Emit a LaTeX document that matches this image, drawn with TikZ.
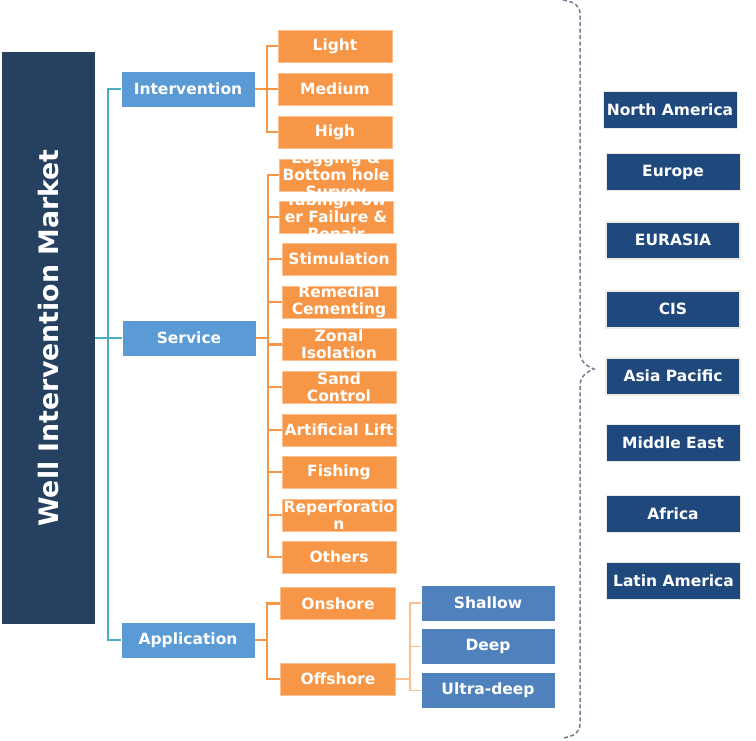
\documentclass[tikz,border=0pt]{standalone}
\usepackage{fontspec}
\setmainfont{DejaVu Sans}
\usetikzlibrary{calc}

\definecolor{navy}{RGB}{38,64,96}
\definecolor{lvlblue}{RGB}{91,155,213}
\definecolor{boxorange}{RGB}{247,150,70}
\definecolor{lineteal}{RGB}{75,172,198}
\definecolor{regblue}{RGB}{31,73,125}
\definecolor{subblue}{RGB}{79,129,189}
\definecolor{paleorange}{RGB}{250,192,144}
\definecolor{bracegrey}{RGB}{112,126,150}
\definecolor{rim}{RGB}{238,236,225}

\tikzset{
  boxtext/.style={text=white, font=\fontsize{15.5}{17}\selectfont\bfseries, align=center, inner sep=0pt},
  titlebox/.style={fill=navy, text=white, font=\fontsize{26.8}{30}\selectfont\bfseries, rotate=90, minimum width=572pt, minimum height=93pt, inner sep=0pt},
  lvlbox/.style={boxtext, fill=lvlblue, draw=white, line width=0.6pt, minimum width=134pt, minimum height=36pt},
  obox/.style={boxtext, fill=boxorange, draw=boxorange!60!white, line width=0.6pt, minimum width=114pt, minimum height=32pt},
  sbox/.style={boxtext, fill=subblue, draw=white, line width=0.6pt, minimum width=134pt, minimum height=36pt},
  regbox/.style={boxtext, fill=regblue, draw=rim, line width=0.8pt, minimum width=134pt, minimum height=37pt},
  rimbox/.style={regbox, line width=2pt},
  tline/.style={draw=lineteal, line width=2.2pt},
  oline/.style={draw=boxorange, line width=2.2pt},
  paleline/.style={draw=paleorange, line width=1.4pt},
  braceline/.style={draw=bracegrey, line width=1.5pt, dash pattern=on 4pt off 2.5pt}
}

\begin{document}
\begin{tikzpicture}[x=1pt,y=-1pt]
  \useasboundingbox (0,0) rectangle (756,740);

  % market and first level
  \node[titlebox] at (48.5,338) (title) {Well Intervention Market};
  \node[lvlbox] at ($(title) + (139.5,-249)$) (intv) {Intervention};
  \node[lvlbox] at ($(title) + (140.5,0)$) (svc) {Service};
  \node[lvlbox] at ($(title) + (139.5,302)$) (appl) {Application};

  % intervention
  \node[obox] at ($(intv) + (147,-43)$) (light) {Light};
  \node[obox] at ($(intv) + (147,0)$) (medium) {Medium};
  \node[obox] at ($(intv) + (147,43)$) (high) {High};

  % service
  \node[obox] at ($(svc) + (147,-163)$) (logg) {};
  \node[obox] at ($(svc) + (147,-121)$) (tubg) {};
  \node[obox] at ($(svc) + (150,-79)$) (stim) {Stimulation};
  \node[obox] at ($(svc) + (150,-36)$) (remc) {Remedial\\Cementing};
  \node[obox] at ($(svc) + (150,6.5)$) (zoni) {Zonal\\Isolation};
  \node[obox] at ($(svc) + (150,49)$) (sand) {Sand\\Control};
  \node[obox] at ($(svc) + (150,92)$) (artl) {Artificial Lift};
  \node[obox] at ($(svc) + (150,134)$) (fish) {Fishing};
  \node[obox] at ($(svc) + (150,177)$) (repf) {Reperforatio\\n};
  \node[obox] at ($(svc) + (150,219)$) (othr) {Others};
  \begin{scope}
    \clip (logg.south west) rectangle (logg.north east);
    \node[boxtext] at ($(logg) + (0,1)$) (loggtxt) {Logging \&\\Bottom hole\\Survey};
  \end{scope}
  \begin{scope}
    \clip (tubg.south west) rectangle (tubg.north east);
    \node[boxtext] at ($(tubg) + (0,1)$) (tubgtxt) {Tubing/Pow\\er Failure \&\\Repair};
  \end{scope}

  % application
  \node[obox, minimum width=115pt] at ($(appl) + (150,-36.5)$) (onsh) {Onshore};
  \node[obox, minimum width=115pt] at ($(appl) + (150,39)$) (offsh) {Offshore};
  \node[sbox] at ($(offsh) + (150,-76)$) (shal) {Shallow};
  \node[sbox] at ($(offsh) + (150,-32.5)$) (deep) {Deep};
  \node[sbox] at ($(offsh) + (150,11.5)$) (ultra) {Ultra-deep};

  % regions
  \node[regbox] at (670,109.5) (namer) {North America};
  \node[regbox] at (673,172) (europe) {Europe};
  \node[rimbox] at (673,240) (eurasia) {EURASIA};
  \node[rimbox] at (673,309) (cis) {CIS};
  \node[rimbox] at (673,376) (apac) {Asia Pacific};
  \node[regbox] at (673,443) (mideast) {Middle East};
  \node[regbox] at (673,514) (africa) {Africa};
  \node[regbox] at (673.5,580.5) (latam) {Latin America};

  % connectors
  \coordinate (tk) at ($(title.south) + (13,0)$);
  \coordinate (ib) at ($(intv.east) + (12,0)$);
  \coordinate (sb) at ($(svc.east) + (12,0)$);
  \coordinate (ab) at ($(appl.east) + (12,0)$);
  \coordinate (fb) at ($(offsh.east) + (14,0)$);

  \draw[tline] (intv.west) -| (tk) |- (appl.west);
  \draw[tline] (title.south) -- (svc.west);

  \draw[oline] (intv.east) -- (ib);
  \draw[oline] (light.west) -| (ib) |- (high.west);
  \draw[oline] (medium.west) -- (medium.west -| ib);

  \draw[oline] (svc.east) -- (sb);
  \draw[oline] (logg.west) -| (sb) |- (othr.west);
  \draw[oline] (tubg.west) -- (tubg.west -| sb);
  \draw[oline] (stim.west) -- (stim.west -| sb);
  \draw[oline] (remc.west) -- (remc.west -| sb);
  \draw[oline] (zoni.west) -- (zoni.west -| sb);
  \draw[oline] (sand.west) -- (sand.west -| sb);
  \draw[oline] (artl.west) -- (artl.west -| sb);
  \draw[oline] (fish.west) -- (fish.west -| sb);
  \draw[oline] (repf.west) -- (repf.west -| sb);

  \draw[oline] (appl.east) -- (ab);
  \draw[oline] (onsh.west) -| (ab) |- (offsh.west);

  \draw[paleline] (offsh.east) -- (fb);
  \draw[paleline] (shal.west) -| (fb) |- (ultra.west);
  \draw[paleline] (deep.west) -- (deep.west -| fb);

  % brace
  \draw[braceline] (563,0) .. controls (575,2) and (580,6) .. (580,14) -- (580,352)
    .. controls (580,361) and (586,366) .. (594,369)
    .. controls (586,372) and (580,377) .. (580,386) -- (580,724)
    .. controls (580,732) and (575,736) .. (563,738);
\end{tikzpicture}
\end{document}
